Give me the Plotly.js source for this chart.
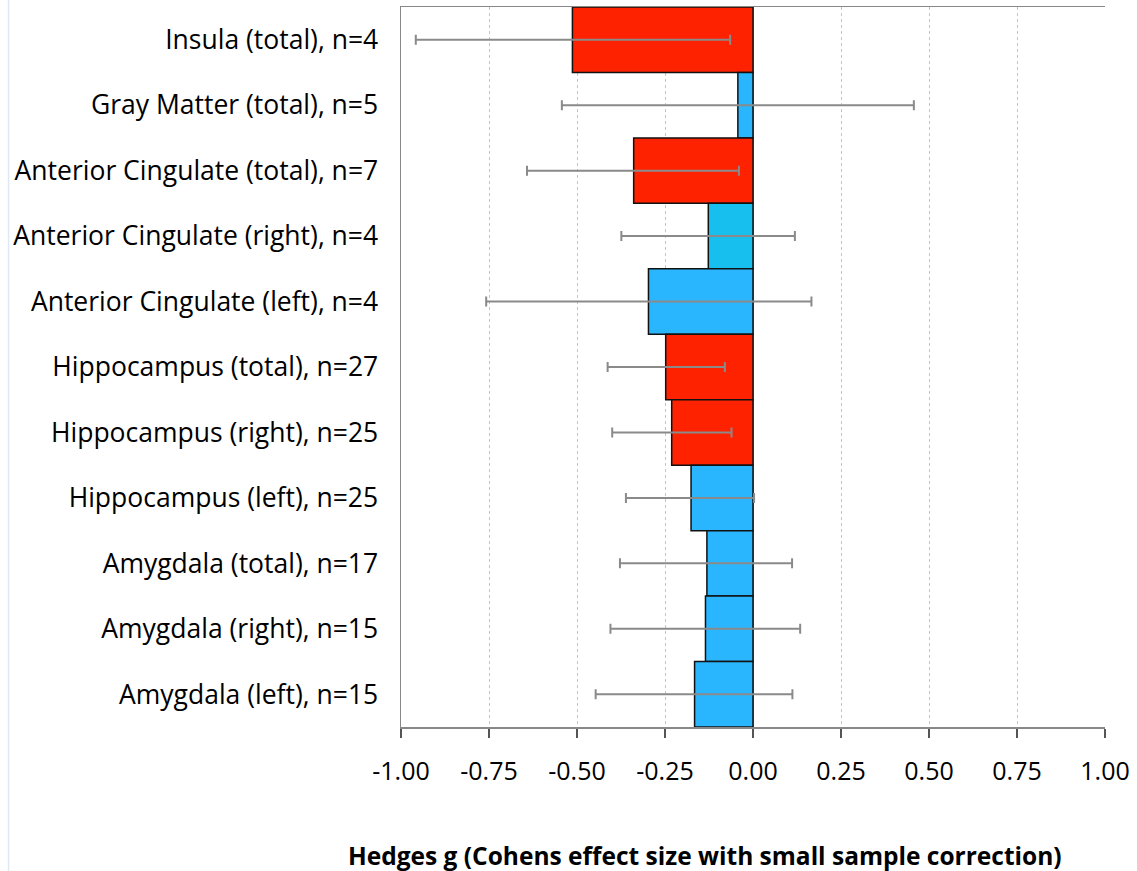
<!DOCTYPE html>
<html>
<head>
<meta charset="utf-8">
<script src="https://cdn.plot.ly/plotly-3.0.1.min.js"></script>
<style>
  html, body { margin: 0; padding: 0; background: #fff; }
  #chart { width: 1137px; height: 871px; }
</style>
</head>
<body>
<div id="chart"></div>
<script>
const categories = [
  "Insula (total), n=4",
  "Gray Matter (total), n=5",
  "Anterior Cingulate (total), n=7",
  "Anterior Cingulate (right), n=4",
  "Anterior Cingulate (left), n=4",
  "Hippocampus (total), n=27",
  "Hippocampus (right), n=25",
  "Hippocampus (left), n=25",
  "Amygdala (total), n=17",
  "Amygdala (right), n=15",
  "Amygdala (left), n=15"
];
const hedgesG = [-0.513, -0.043, -0.339, -0.127, -0.297, -0.248, -0.231, -0.176, -0.131, -0.135, -0.166];
const ciLower = [-0.958, -0.543, -0.642, -0.374, -0.758, -0.413, -0.400, -0.361, -0.378, -0.405, -0.447];
const ciUpper = [-0.065, 0.457, -0.040, 0.119, 0.166, -0.080, -0.061, 0.003, 0.111, 0.134, 0.112];
const barColors = ["#FF2200", "#29B6FF", "#FF2200", "#17BFEF", "#29B6FF", "#FF2200", "#FF2200", "#29B6FF", "#29B6FF", "#29B6FF", "#29B6FF"];
const xTicks = [-1, -0.75, -0.5, -0.25, 0, 0.25, 0.5, 0.75, 1];
const xTickText = ["-1.00", "-0.75", "-0.50", "-0.25", "0.00", "0.25", "0.50", "0.75", "1.00"];
const xAxisTitle = "Hedges g (Cohens effect size with small sample correction)";

const trace = {
  type: "bar",
  orientation: "h",
  y: categories,
  x: hedgesG,
  marker: { color: barColors, line: { color: "#111", width: 1.5 } },
  error_x: {
    type: "data",
    symmetric: false,
    array: hedgesG.map((v, i) => ciUpper[i] - v),
    arrayminus: hedgesG.map((v, i) => v - ciLower[i]),
    color: "#8a8a8a",
    thickness: 2,
    width: 5
  },
  hoverinfo: "x+y"
};

const layout = {
  width: 1137,
  height: 871,
  margin: { l: 401, r: 32, t: 7, b: 144 },
  paper_bgcolor: "#fff",
  plot_bgcolor: "#fff",
  bargap: 0,
  showlegend: false,
  font: { family: "'Open Sans', sans-serif", color: "#000" },
  xaxis: {
    range: [-1, 1],
    tickvals: xTicks,
    ticktext: xTickText,
    tickfont: { size: 25, color: "#000" },
    ticks: "outside",
    ticklen: 9,
    tickwidth: 1.5,
    tickcolor: "#555",
    ticklabelstandoff: 12,
    showline: true,
    linecolor: "#888",
    linewidth: 1.5,
    mirror: true,
    showgrid: true,
    gridcolor: "#c4c4c4",
    griddash: "dot",
    gridwidth: 1,
    zeroline: true,
    zerolinecolor: "#888",
    zerolinewidth: 2
  },
  yaxis: {
    type: "category",
    autorange: "reversed",
    tickfont: { size: 26.5, color: "#000" },
    ticks: "outside",
    ticklen: 16,
    tickcolor: "rgba(0,0,0,0)",
    showline: true,
    linecolor: "#888",
    linewidth: 1.5,
    showgrid: false,
    zeroline: false
  },
  annotations: [
    { text: "<b>" + xAxisTitle + "</b>", xref: "paper", yref: "paper", x: 0.432, y: -0.178, xanchor: "center", yanchor: "middle", showarrow: false, font: { size: 24.5, color: "#000" } }
  ],
  shapes: [
    { type: "line", xref: "paper", yref: "paper", x0: -0.5575, x1: -0.5575, y0: -0.2, y1: 1.02, line: { color: "#dfe9f5", width: 1.5 } }
  ]
};

Plotly.newPlot("chart", [trace], layout, { displayModeBar: false, staticPlot: true });
</script>
</body>
</html>
